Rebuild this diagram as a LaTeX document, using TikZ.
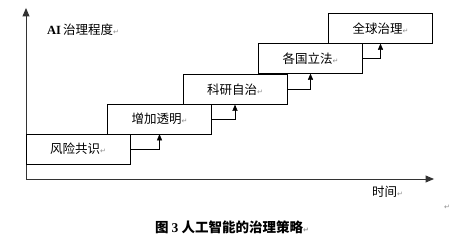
\documentclass[tikz,border=0pt]{standalone}
\usepackage{fontspec}
\setmainfont{Liberation Serif}
\newfontfamily\cjk{Noto Sans CJK SC}
\newfontfamily\symfont{DejaVu Sans}
\usetikzlibrary{arrows}
\newcommand{\pmark}{{\symfont\fontsize{7}{7}\selectfont\color{black!45}↵}}

\begin{document}
\begin{tikzpicture}[x=1pt,y=-1pt,
	stage/.style={draw, minimum width=104pt, minimum height=30pt, inner sep=0pt, font=\cjk\fontsize{12.5}{14}\selectfont},
	axis/.style={line width=0.9pt, black!80, -triangle 45},
	link/.style={-triangle 45}]
	\useasboundingbox (0,0) rectangle (460,240);
	% axes
	\coordinate (origin) at (26,179);
	\coordinate (ytip) at (26,8);
	\coordinate (xtip) at (434,179);
	\draw[axis] (origin) -- (ytip);
	\draw[axis] (origin) -- (xtip);
	\node[anchor=west, inner sep=0pt, font=\fontsize{12.5}{14}\selectfont] (ylab) at (47,30) {\textbf{AI}\,{\cjk 治理程度}\pmark};
	\node[anchor=west, inner sep=0pt, font=\cjk\fontsize{12.5}{14}\selectfont] (xlab) at (372,192) {时间\pmark};
	% stages
	\node[stage] (b1) at (78,149) {风险共识\pmark};
	\node[stage] (b2) at (159.5,119) {增加透明\pmark};
	\node[stage] (b3) at (235,89.5) {科研自治\pmark};
	\node[stage] (b4) at (310.5,58.5) {各国立法\pmark};
	\node[stage] (b5) at (380.5,28.5) {全球治理\pmark};
	\draw[link] (b1.east) -| (b2.south);
	\draw[link] (b2.east) -| (b3.south);
	\draw[link] (b3.east) -| (b4.south);
	\draw[link] (b4.east) -| (b5.south);
	% caption
	\node[inner sep=0pt, font=\cjk\bfseries\fontsize{13.5}{15}\selectfont] (caption) at (232,227) {图\ {\rmfamily\bfseries 3}\ 人工智能的治理策略\pmark};
	\node[inner sep=0pt] (endmark) at (447,207) {\pmark};
\end{tikzpicture}
\end{document}
